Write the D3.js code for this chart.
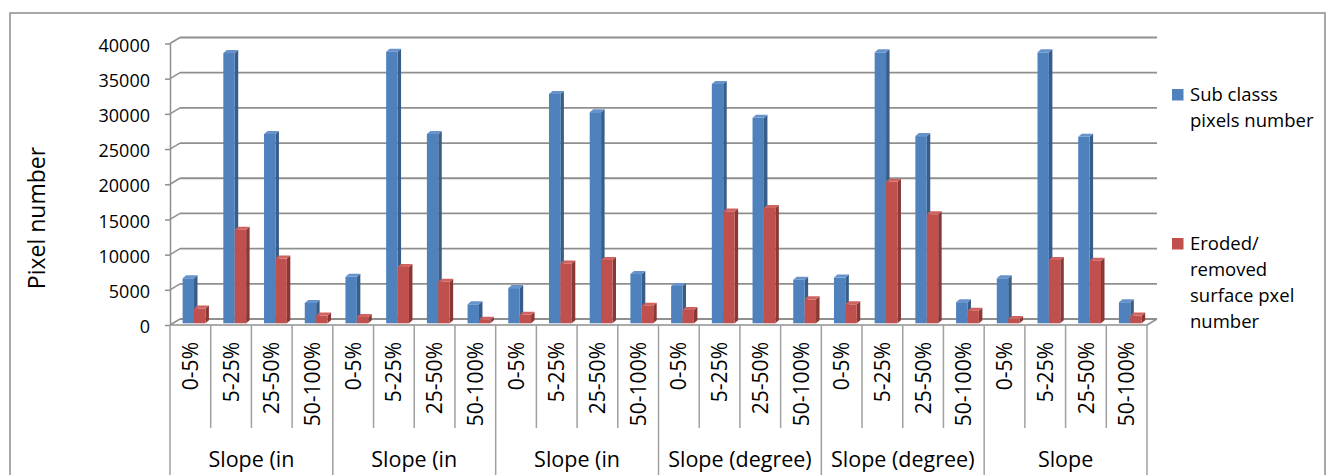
<!DOCTYPE html>
<html>
<head>
<meta charset="utf-8">
<script src="https://cdn.jsdelivr.net/npm/d3@7"></script>
<style>
  body { margin: 0; background: #fff; }
  svg { display: block; font-family: "Open Sans", sans-serif; }
</style>
</head>
<body>
<svg width="1330" height="475"></svg>
<script>

// chart data
var groups = ["Slope (in", "Slope (in", "Slope (in", "Slope (degree)", "Slope (degree)", "Slope"];
var classes = ["0-5%", "5-25%", "25-50%", "50-100%"];
var subClassPixels = [6400, 38400, 26900, 2900,  6600, 38600, 26900, 2700,  5000, 32600, 30000, 7000,
                      5300, 34000, 29200, 6200,  6500, 38500, 26600, 3000,  6400, 38500, 26500, 3000];
var erodedPixels   = [2100, 13300, 9200, 1100,   900, 8000, 5900, 500,     1200, 8500, 9000, 2500,
                      1900, 15900, 16400, 3400,  2700, 20100, 15500, 1800, 600, 9000, 8900, 1100];
var yTicks = [0, 5000, 10000, 15000, 20000, 25000, 30000, 35000, 40000];
var seriesNames = [["Sub classs", "pixels number"], ["Eroded/", "removed", "surface pxel", "number"]];

var blue = {front: "#4f81bd", side: "#385d8a", top: "#6693cb"};
var red  = {front: "#c0504d", side: "#8a3836", top: "#d0625f"};

var svg = d3.select("svg");

// outer frame
svg.append("rect")
	.attr("x", 10).attr("y", 13)
	.attr("width", 1315).attr("height", 480)
	.attr("fill", "none").attr("stroke", "#8c8c8c").attr("stroke-width", 1.5);

var left = 170, right = 1147;
var depthX = 10, depthY = 6;

// x scale: one slot per (group, class)
var slots = d3.range(groups.length * classes.length);
var x = d3.scaleBand().domain(slots).range([left, right]).padding(0);

// front y scale, bars sit a little deeper
var y = d3.scaleLinear().domain([0, 40000]).range([325, 43.5]);
var yBar = d3.scaleLinear().domain([0, 40000]).range([323.3, 41.8]);

var gridColor = "#8f8f8f";

// back wall gridlines + diagonal connectors
var grid = svg.append("g");
yTicks.forEach(function(t){
	grid.append("line")
		.attr("x1", left + depthX).attr("x2", right + depthX)
		.attr("y1", y(t) - depthY).attr("y2", y(t) - depthY)
		.attr("stroke", gridColor).attr("stroke-width", 1.8);
	grid.append("line")
		.attr("x1", left).attr("x2", left + depthX)
		.attr("y1", y(t)).attr("y2", y(t) - depthY)
		.attr("stroke", gridColor).attr("stroke-width", 1.5);
});

// floor front edge and right corner
grid.append("line")
	.attr("x1", left).attr("x2", right)
	.attr("y1", y(0)).attr("y2", y(0))
	.attr("stroke", gridColor).attr("stroke-width", 1.5);
grid.append("line")
	.attr("x1", right).attr("x2", right + depthX)
	.attr("y1", y(0)).attr("y2", y(0) - depthY)
	.attr("stroke", gridColor).attr("stroke-width", 1.5);

// y axis
var yAxis = d3.axisLeft(y).tickValues(yTicks).tickSize(5).tickSizeOuter(0).tickPadding(15)
	.tickFormat(d3.format("d"));
var ya = svg.append("g").attr("transform", "translate(" + left + ",0)").call(yAxis);
ya.select(".domain").attr("stroke", gridColor).attr("stroke-width", 1.5);
ya.selectAll(".tick line").attr("stroke", gridColor).attr("stroke-width", 1.5);
ya.selectAll(".tick text")
	.attr("font-size", 18).attr("font-family", "Open Sans")
	.attr("fill", "#000").attr("dy", "0.42em");

svg.append("text")
	.attr("transform", "translate(45,218) rotate(-90)")
	.attr("text-anchor", "middle")
	.attr("font-size", 23)
	.text("Pixel number");

// bars
var barW = x.bandwidth() * 0.28;
var sideX = 3.5, sideY = 3;

function drawBar(g, x0, v, col){
	var top = yBar(v), base = yBar(0);
	g.append("path")
		.attr("d", "M" + (x0 + barW) + "," + top + "L" + (x0 + barW + sideX) + "," + (top - sideY) +
			"L" + (x0 + barW + sideX) + "," + (base - sideY) + "L" + (x0 + barW) + "," + base + "Z")
		.attr("fill", col.side);
	g.append("rect")
		.attr("x", x0).attr("y", top)
		.attr("width", barW).attr("height", base - top)
		.attr("fill", col.front);
	g.append("path")
		.attr("d", "M" + x0 + "," + top + "L" + (x0 + barW) + "," + top +
			"L" + (x0 + barW + sideX) + "," + (top - sideY) + "L" + (x0 + sideX) + "," + (top - sideY) + "Z")
		.attr("fill", col.top);
}

var bars = svg.append("g");
slots.forEach(function(i){
	var x0 = x(i) + x.bandwidth() * 0.31;
	drawBar(bars, x0, subClassPixels[i], blue);
	drawBar(bars, x0 + barW, erodedPixels[i], red);
});

// category axis: separators and labels
var cat = svg.append("g");
slots.concat([slots.length]).forEach(function(i){
	var xx = i < slots.length ? x(i) : right;
	var isGroup = i % classes.length === 0;
	cat.append("line")
		.attr("x1", xx).attr("x2", xx)
		.attr("y1", y(0)).attr("y2", isGroup ? 475 : 428)
		.attr("stroke", "#a0a0a0").attr("stroke-width", 1.5);
});

slots.forEach(function(i){
	var cx = x(i) + x.bandwidth() / 2;
	cat.append("text")
		.attr("transform", "translate(" + cx + ",342) rotate(-90)")
		.attr("text-anchor", "end")
		.attr("dy", "0.36em")
		.attr("font-size", 21)
		.text(classes[i % classes.length]);
});

groups.forEach(function(gname, gi){
	var gx = x(gi * classes.length) + x.bandwidth() * classes.length / 2;
	cat.append("text")
		.attr("x", gx).attr("y", 467)
		.attr("text-anchor", "middle")
		.attr("font-size", 21.5)
		.text(gname);
});

// legend
var legend = svg.append("g");
var legendTop = [89, 238];
[blue, red].forEach(function(col, si){
	legend.append("rect")
		.attr("x", 1172).attr("y", legendTop[si])
		.attr("width", 11.5).attr("height", 11.5)
		.attr("fill", col.front);
	seriesNames[si].forEach(function(line, li){
		legend.append("text")
			.attr("x", 1190).attr("y", legendTop[si] + 12 + li * 26)
			.attr("font-size", 18.5)
			.text(line);
	});
});

</script>
</body>
</html>
